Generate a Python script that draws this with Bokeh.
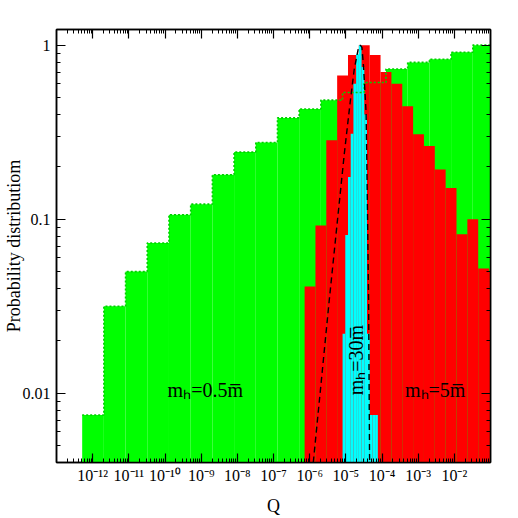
import math
from bokeh.plotting import figure
from bokeh.models import LogAxis, FixedTicker, CustomJSTickFormatter, Label, Range1d
from bokeh.embed import file_html
from bokeh.resources import INLINE

# ---------------- data ----------------
# m_h = 0.5 mbar  (green), bins of 0.6 decade, log10(Q) edges
green_log_edges = [-12.29, -11.69, -11.09, -10.49, -9.89, -9.29, -8.69, -8.09, -7.49, -6.89,
                   -6.29, -5.69, -5.09, -4.49, -3.89, -3.29, -2.69, -2.09, -1.49, -0.89]
green_heights = [0.0075, 0.0316, 0.050, 0.073, 0.106, 0.122, 0.18, 0.243, 0.276, 0.382,
                 0.43, 0.483, 0.535, 0.61, 0.73, 0.796, 0.83, 0.91, 1.0]

# m_h = 5 mbar (red), bins of 0.3 decade
red_log_edges = [-6.14, -5.84, -5.54, -5.24, -4.94, -4.64, -4.34, -4.04, -3.74, -3.44,
                 -3.14, -2.84, -2.54, -2.24, -1.94, -1.64, -1.34, -1.04, -0.74]
red_heights = [0.041, 0.092, 0.284, 0.67, 0.877, 1.0, 0.877, 0.70, 0.60, 0.446,
               0.308, 0.263, 0.193, 0.151, 0.082, 0.10, 0.052, 0.05]

# m_h = 30 mbar (cyan), bins of 0.075 decade
cyan_log_edges = [-5.09, -5.015, -4.94, -4.865, -4.79, -4.715, -4.64, -4.565, -4.49,
                  -4.415, -4.34, -4.265, -4.19, -4.115]
cyan_heights = [0.022, 0.081, 0.175, 0.31, 0.60, 0.89, 1.0, 0.75, 0.40, 0.022,
                0.0075, 0.0075, 0.0075]

# dashed analytic curve
curve_logq = [-5.90, -5.46, -5.04, -4.88, -4.77, -4.65, -4.60, -4.555, -4.51,
              -4.44, -4.42, -4.37, -4.345, -4.335]
curve_p = [0.0040, 0.034, 0.24, 0.47, 0.72, 0.97, 1.0, 0.97, 0.75,
           0.41, 0.22, 0.034, 0.0045, 0.0030]

x_tick_exponents = [-12, -11, -10, -9, -8, -7, -6, -5, -4, -3, -2]
x_tick_labels = ["10⁻¹²", "10⁻¹¹", "10⁻¹⁰", "10⁻⁹", "10⁻⁸", "10⁻⁷",
                 "10⁻⁶", "10⁻⁵", "10⁻⁴", "10⁻³", "10⁻²"]
y_ticks = [0.01, 0.1, 1.0]
y_tick_labels = ["0.01", "0.1", "1"]

FONT = "Liberation Serif"
BOTTOM = 1e-4

# ---------------- figure ----------------
p = figure(x_axis_type="log", y_axis_type="log",
           x_range=Range1d(1e-13, 1e-1), y_range=Range1d(0.004, 1.23),
           frame_width=434, frame_height=433,
           min_border_left=56, min_border_right=20, min_border_top=29, min_border_bottom=50,
           output_backend="svg", toolbar_location=None)
p.xgrid.visible = False
p.ygrid.visible = False
p.outline_line_color = "black"
p.outline_line_width = 1.5
p.background_fill_color = "white"


def q(v):
    return [10 ** e for e in v]


ge = q(green_log_edges)
p.quad(left=ge[:-1], right=ge[1:], bottom=BOTTOM, top=green_heights,
       fill_color="#00ff00", line_color=None)
re_ = q(red_log_edges)
p.quad(left=re_[:-1], right=re_[1:], bottom=BOTTOM, top=red_heights,
       fill_color="#ff0000", line_color=None)
ce = q(cyan_log_edges)
p.quad(left=ce[:-1], right=ce[1:], bottom=BOTTOM, top=cyan_heights,
       fill_color="#00ffff", line_color=None)

# green outline drawn dotted on top
p.step(x=ge, y=green_heights + [green_heights[-1]], mode="after",
       line_color="#00d000", line_width=1.6, line_dash="2 2")

# dashed curve
p.line(x=q(curve_logq), y=curve_p, line_color="black", line_width=1.4, line_dash="6 4")

# ---------------- axes ----------------
x_major = [10.0 ** e for e in x_tick_exponents]
x_minor = [k * 10.0 ** n for n in range(-13, -1) for k in range(2, 10)]
y_minor = [k * 10.0 ** n for n in range(-3, 1) for k in range(2, 10)]


def style(ax, major, minor, labels=None):
    ax.ticker = FixedTicker(ticks=major, minor_ticks=minor)
    ax.major_tick_in = 9
    ax.major_tick_out = 0
    ax.minor_tick_in = 4
    ax.minor_tick_out = 0
    ax.axis_line_color = "black"
    ax.axis_line_width = 1.5
    ax.major_tick_line_color = "black"
    ax.minor_tick_line_color = "black"
    ax.major_tick_line_width = 1.2
    ax.minor_tick_line_width = 1.0
    if labels is None:
        ax.major_label_text_font_size = "6px"
        ax.major_label_text_alpha = 0
        ax.major_label_standoff = 0
    else:
        ax.formatter = CustomJSTickFormatter(args=dict(labs=labels), code="return labs[index];")
        ax.major_label_text_font = FONT
        ax.major_label_text_font_size = "16px"
        ax.major_label_text_color = "black"


xb = p.xaxis[0]
style(xb, x_major, x_minor, x_tick_labels)
xb.major_label_standoff = 4
xb.axis_label = "Q"
xb.axis_label_text_font = FONT
xb.axis_label_text_font_size = "18px"
xb.axis_label_text_font_style = "normal"
xb.axis_label_text_color = "black"
xb.axis_label_standoff = 9

yl = p.yaxis[0]
style(yl, y_ticks, y_minor, y_tick_labels)
yl.major_label_standoff = 6
yl.axis_label = "Probability distributiom"
yl.axis_label_text_font = FONT
yl.axis_label_text_font_size = "18px"
yl.axis_label_text_font_style = "normal"
yl.axis_label_text_color = "black"
yl.axis_label_standoff = -4

top_ax = LogAxis()
style(top_ax, x_major, x_minor)
p.add_layout(top_ax, "above")
right_ax = LogAxis()
style(right_ax, y_ticks, y_minor)
p.add_layout(right_ax, "right")

# series labels
p.add_layout(Label(x=1.3e-9, y=0.0104, text="mₕ=0.5m̅", text_font=FONT,
                   text_font_size="20px", text_align="center", text_baseline="middle",
                   text_color="black"))
p.add_layout(Label(x=2.95e-3, y=0.0104, text="mₕ=5m̅", text_font=FONT,
                   text_font_size="20px", text_align="center", text_baseline="middle",
                   text_color="black"))
p.add_layout(Label(x=1.9e-5, y=0.0155, text="mₕ=30m̅", text_font=FONT,
                   text_font_size="20px", text_align="center", text_baseline="middle",
                   angle=math.pi / 2, text_color="black"))

open("out.html", "w").write(file_html(p, INLINE))
